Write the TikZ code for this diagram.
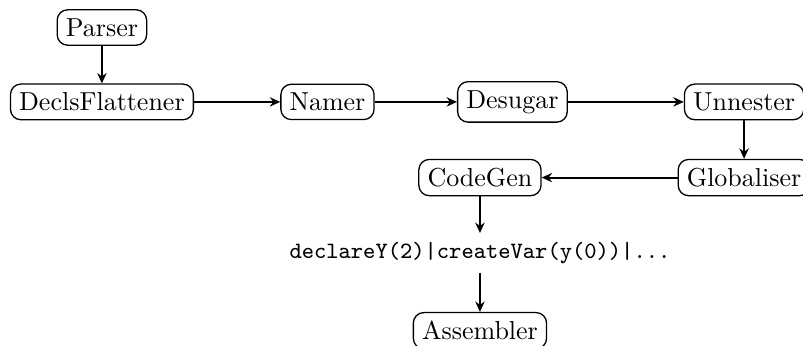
\documentclass[tikz,border=0pt]{standalone}
\usetikzlibrary{arrows.meta}
\begin{document}
\begin{tikzpicture}[x=1pt,y=1pt,
  stage/.style={draw,rounded corners=4pt,line width=0.5pt,inner sep=3.33pt},
  flow/.style={-{Stealth[length=4pt,width=3.6pt,inset=1.3pt]},line width=0.75pt}]
\useasboundingbox (0,0) rectangle (308.85,-132.7);
\node[stage] (parser) at (39.2,-10.58) {Parser};
\node[stage] (decls) at (39.2,-39.2) {DeclsFlattener};
\node[stage] (namer) at (125.96,-39.2) {Namer};
\node[stage] (desugar) at (197.1,-39.2) {Desugar};
\node[stage] (unnester) at (286.2,-39.2) {Unnester};
\node[stage] (glob) at (286.2,-68.3) {Globaliser};
\node[stage] (codegen) at (184.6,-68.3) {CodeGen};
\node (code) at (184.6,-97.3) {\small\ttfamily declareY(2)|createVar(y(0))|...};
\node[stage] (asm) at (184.6,-127.2) {Assembler};
\draw[flow] (parser) -- (decls);
\draw[flow] (decls) -- (namer);
\draw[flow] (namer) -- (desugar);
\draw[flow] (desugar) -- (unnester);
\draw[flow] (unnester) -- (glob);
\draw[flow] (glob) -- (codegen);
\draw[flow] (codegen) -- (code);
\draw[flow] (code) -- (asm);
\end{tikzpicture}
\end{document}
